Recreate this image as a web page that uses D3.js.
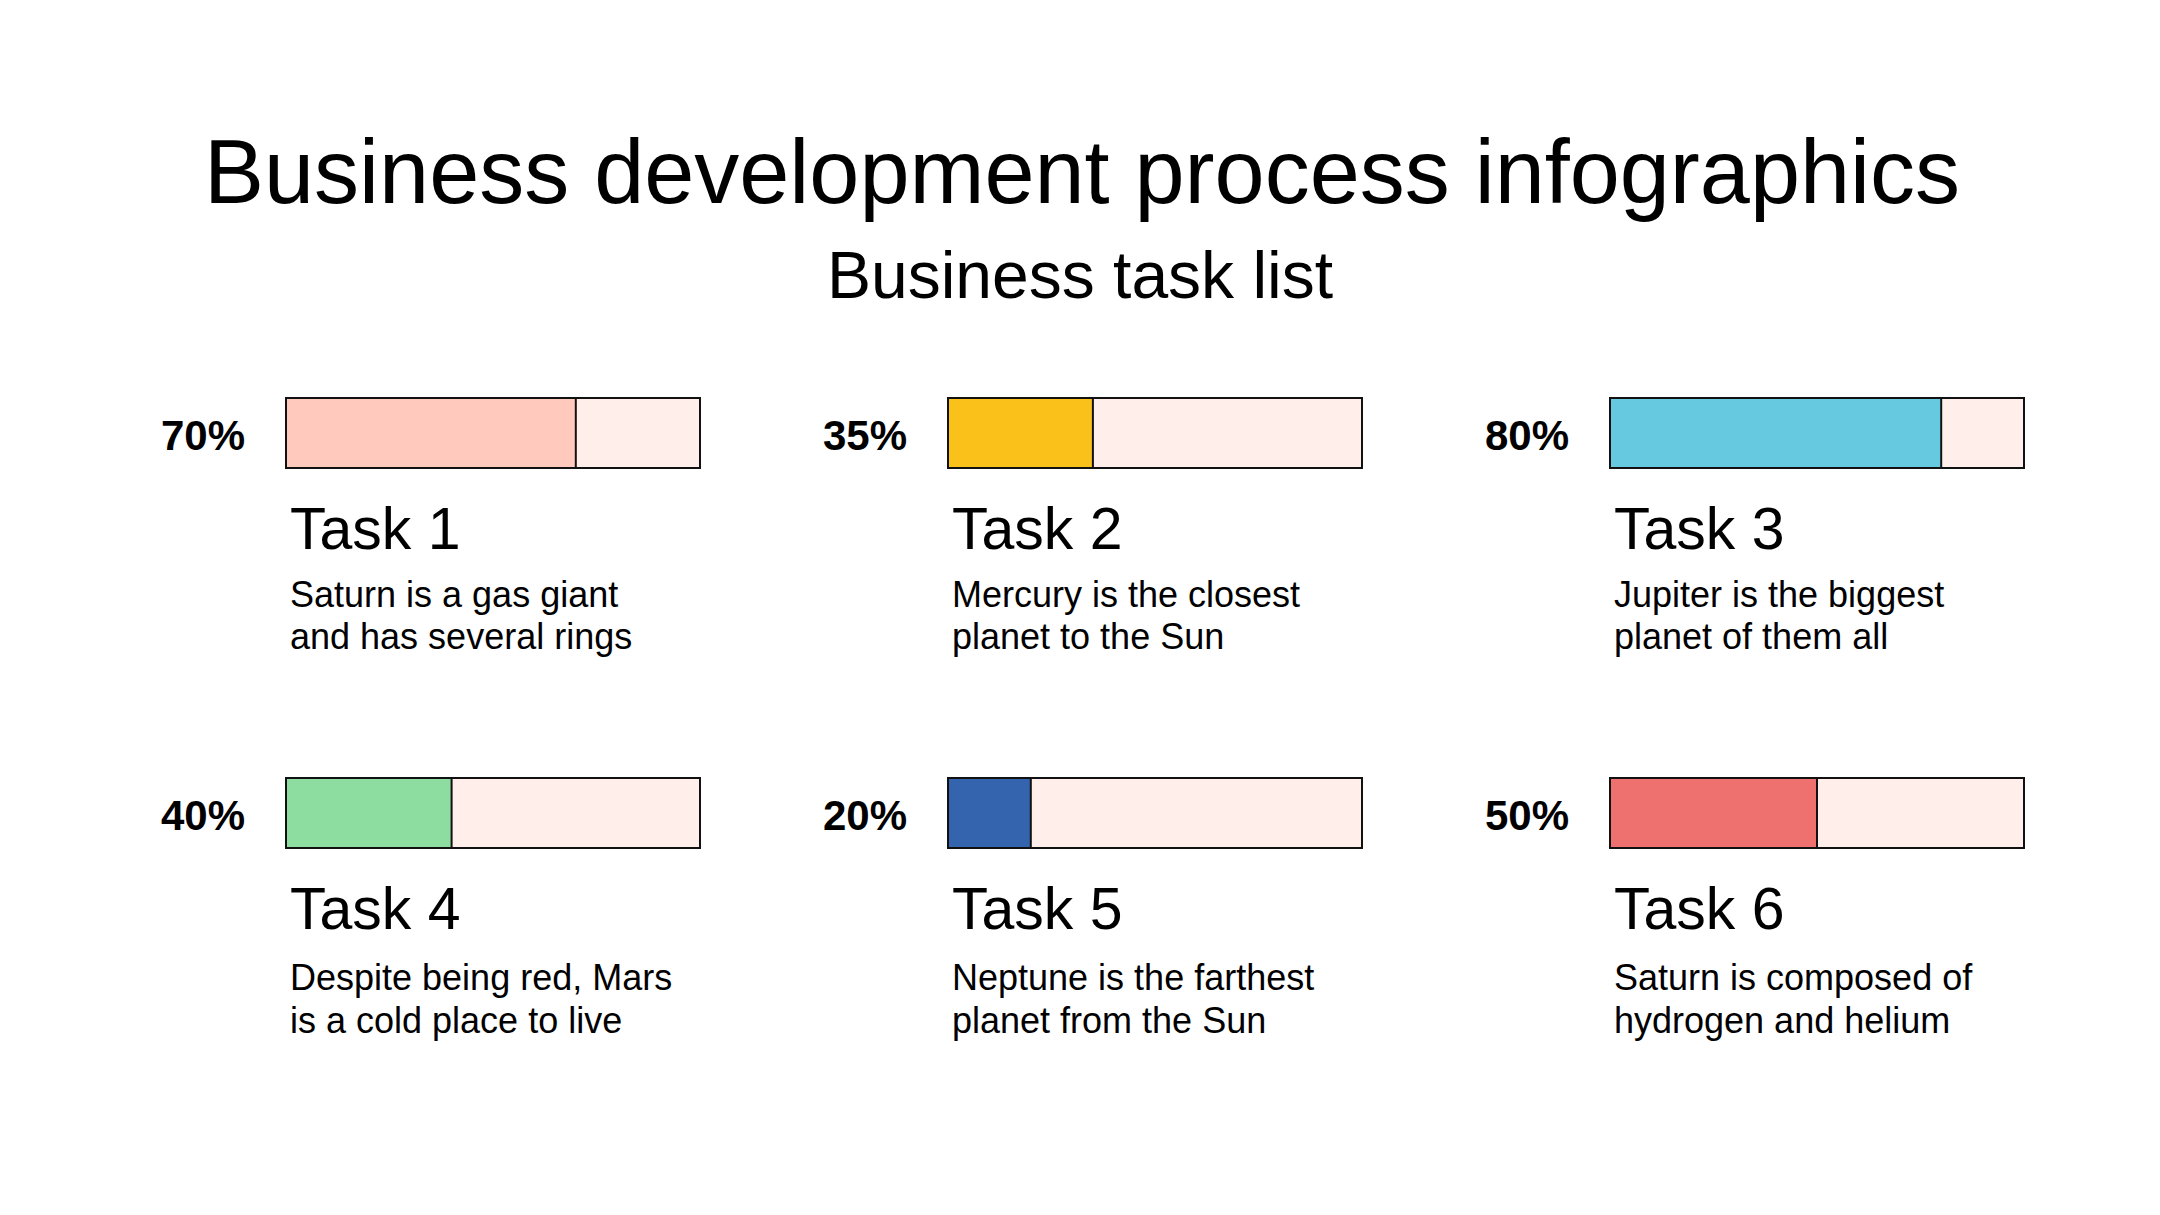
<!DOCTYPE html>
<html>
<head>
<meta charset="utf-8">
<script src="https://cdn.jsdelivr.net/npm/d3@7"></script>
<style>
  html, body { margin: 0; padding: 0; background: #ffffff; }
  svg { display: block; }
  text { font-family: "Liberation Sans", Arial, Helvetica, sans-serif; fill: #000; }
</style>
</head>
<body>
<svg id="chart" width="2160" height="1215"></svg>
<script>
const title = "Business development process infographics";
const subtitle = "Business task list";
const tasks = ["Task 1", "Task 2", "Task 3", "Task 4", "Task 5", "Task 6"];
const values = [70, 35, 80, 40, 20, 50];
const colors = ["#FFC9BD", "#FBC11B", "#67C9E0", "#8EDDA0", "#3564AE", "#EE7170"];
const descLine1 = ["Saturn is a gas giant", "Mercury is the closest", "Jupiter is the biggest",
                   "Despite being red, Mars", "Neptune is the farthest", "Saturn is composed of"];
const descLine2 = ["and has several rings", "planet to the Sun", "planet of them all",
                   "is a cold place to live", "planet from the Sun", "hydrogen and helium"];
const restColor = "#FFEEEA";

const svg = d3.select("#chart");

const colScale = d3.scaleLinear().domain([0, 2]).range([286, 1610]);
const rowScale = d3.scaleLinear().domain([0, 1]).range([398, 778]);
const barW = 414, barH = 70;
const xVal = d3.scaleLinear().domain([0, 100]).range([0, barW]);

svg.append("text")
  .attr("x", 1082).attr("y", 203)
  .attr("text-anchor", "middle")
  .attr("font-size", 90)
  .text(title);

svg.append("text")
  .attr("x", 1080).attr("y", 298)
  .attr("text-anchor", "middle")
  .attr("font-size", 66)
  .text(subtitle);

const data = tasks.map((t, i) => ({
  task: t, value: values[i], color: colors[i], d1: descLine1[i], d2: descLine2[i],
  col: i % 3, row: Math.floor(i / 3)
}));

const g = svg.selectAll("g.task").data(data).enter().append("g")
  .attr("class", "task")
  .attr("transform", d => `translate(${colScale(d.col)},${rowScale(d.row)})`);

g.append("rect")
  .attr("x", 0).attr("y", 0)
  .attr("width", xVal(100)).attr("height", barH)
  .attr("fill", restColor)
  .attr("stroke", "#111").attr("stroke-width", 2);

g.append("rect")
  .attr("x", 0).attr("y", 0)
  .attr("width", d => xVal(d.value)).attr("height", barH)
  .attr("fill", d => d.color)
  .attr("stroke", "#111").attr("stroke-width", 2);

g.append("text")
  .attr("x", -41).attr("y", 52)
  .attr("text-anchor", "end")
  .attr("font-size", 42)
  .attr("font-weight", "bold")
  .text(d => d.value + "%");

g.append("text")
  .attr("x", 4).attr("y", 151)
  .attr("font-size", 59)
  .text(d => d.task);

g.append("text")
  .attr("x", 4).attr("y", d => d.row === 0 ? 209 : 212)
  .attr("font-size", 36)
  .text(d => d.d1);

g.append("text")
  .attr("x", 4).attr("y", d => d.row === 0 ? 251 : 255)
  .attr("font-size", 36)
  .text(d => d.d2);
</script>
</body>
</html>
